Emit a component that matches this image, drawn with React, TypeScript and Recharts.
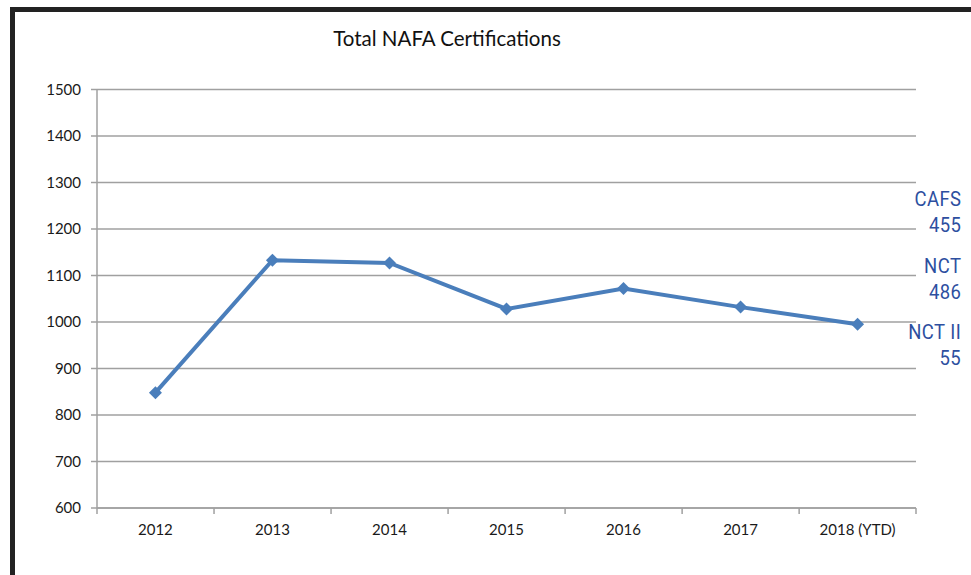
import React from "react";
import { LineChart, Line, XAxis, YAxis, CartesianGrid } from "recharts";

const years = ["2012", "2013", "2014", "2015", "2016", "2017", "2018 (YTD)"];
const totals = [848, 1133, 1127, 1028, 1072, 1032, 995];
const yTicks = [600, 700, 800, 900, 1000, 1100, 1200, 1300, 1400, 1500];
const notes = [
  ["CAFS", "455"],
  ["NCT", "486"],
  ["NCT II", "55"],
];

const data = years.map((year, i) => ({ year, total: totals[i] }));

const BLUE = "#4a7ebb";
const GRID = "#a0a0a0";
const FONT = "Lato, 'Open Sans', sans-serif";
const HALF_BAND = 818 / years.length / 2;

const Diamond = (props: any) => {
  const { cx, cy } = props;
  if (cx == null || cy == null) return null;
  const r = 6.5;
  return (
    <polygon
      points={`${cx},${cy - r} ${cx + r},${cy} ${cx},${cy + r} ${cx - r},${cy}`}
      fill={BLUE}
    />
  );
};

const YearTick = (props: any) => {
  const { x, y, payload, index } = props;
  const last = index === years.length - 1;
  return (
    <g>
      <line x1={x - HALF_BAND} x2={x - HALF_BAND} y1={y - 6} y2={y} stroke={GRID} strokeWidth={1.5} />
      {last && (
        <line x1={x + HALF_BAND} x2={x + HALF_BAND} y1={y - 6} y2={y} stroke={GRID} strokeWidth={1.5} />
      )}
      <text x={x} y={y + 21} textAnchor="middle" fontSize={15} fontFamily={FONT} fill="#1a1a1a">
        {payload.value}
      </text>
    </g>
  );
};

export default function App() {
  return (
    <div
      style={{
        position: "absolute",
        left: 0,
        top: 0,
        width: 971,
        height: 575,
        background: "#fff",
        overflow: "hidden",
      }}
    >
      <div
        style={{
          position: "absolute",
          left: 10,
          top: 7,
          width: 980,
          height: 600,
          borderTop: "5px solid #222",
          borderLeft: "5px solid #222",
        }}
      />
      <div
        style={{
          position: "absolute",
          left: 247,
          width: 400,
          top: 28,
          textAlign: "center",
          fontFamily: FONT,
          fontSize: 20.5,
          lineHeight: "20px",
          color: "#111",
        }}
      >
        Total NAFA Certifications
      </div>
      <div style={{ position: "absolute", left: 0, top: 0 }}>
        <LineChart
          width={971}
          height={575}
          data={data}
          margin={{ top: 89.5, right: 55, bottom: 27, left: 37 }}
        >
          <CartesianGrid vertical={false} stroke={GRID} strokeWidth={1.5} />
          <XAxis
            dataKey="year"
            height={40}
            padding={{ left: HALF_BAND, right: HALF_BAND }}
            axisLine={{ stroke: GRID, strokeWidth: 1.5 }}
            tickLine={false}
            tickSize={6}
            tickMargin={0}
            interval={0}
            tick={<YearTick />}
          />
          <YAxis
            width={60}
            domain={[600, 1500]}
            ticks={yTicks}
            interval={0}
            axisLine={{ stroke: GRID, strokeWidth: 1.5 }}
            tickLine={{ stroke: GRID, strokeWidth: 1.5 }}
            tickSize={6}
            tickMargin={10}
            tick={{ fontSize: 15, fontFamily: FONT, fill: "#1a1a1a" }}
          />
          <Line
            dataKey="total"
            stroke={BLUE}
            strokeWidth={4}
            dot={<Diamond />}
            activeDot={false}
            isAnimationActive={false}
          />
        </LineChart>
      </div>
      {notes.map((pair, i) => (
        <div
          key={pair[0]}
          style={{
            position: "absolute",
            right: 10,
            top: 186 + i * 66.5,
            textAlign: "right",
            fontFamily: "'Liberation Sans Narrow', Roboto, sans-serif",
            fontSize: 21,
            lineHeight: "26px",
            letterSpacing: 0.5,
            color: "#2d4f9f",
            transform: "scaleX(0.88)",
            transformOrigin: "right center",
          }}
        >
          <div>{pair[0]}</div>
          <div>{pair[1]}</div>
        </div>
      ))}
    </div>
  );
}
